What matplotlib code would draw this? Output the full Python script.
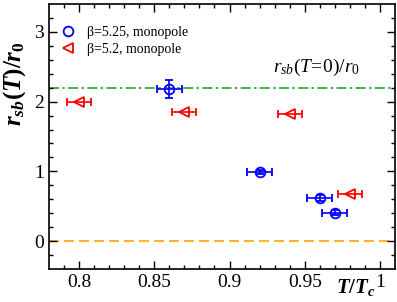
import numpy as np
import matplotlib
matplotlib.use('Agg')
import matplotlib.pyplot as plt
from matplotlib.lines import Line2D

plt.rcParams['font.family'] = 'Liberation Serif'
plt.rcParams['mathtext.fontset'] = 'custom'
plt.rcParams['mathtext.rm'] = 'Liberation Serif'
plt.rcParams['mathtext.it'] = 'Liberation Serif:italic'
plt.rcParams['mathtext.bf'] = 'Liberation Serif:bold'
plt.rcParams['mathtext.bfit'] = 'Liberation Serif:bold:italic'

# beta = 5.25, monopole
t_525 = [0.86, 0.92, 0.96, 0.97]
r_525 = [2.18, 0.99, 0.62, 0.41]
tx_525 = [0.0083, 0.0083, 0.0083, 0.0083]
ry_525 = [0.13, 0.03, 0.04, 0.04]

# beta = 5.2, monopole
t_52 = [0.80, 0.87, 0.94, 0.98]
r_52 = [2.00, 1.85, 1.82, 0.67]
tx_52 = [0.008, 0.008, 0.008, 0.008]

r_T0 = 2.2

fig = plt.figure(figsize=(3.97, 3.02), dpi=100)
ax = fig.add_axes([0.1234, 0.109, 0.8716, 0.878])

ax.axhline(r_T0, color='#22aa22', ls=(0, (6, 2, 1.5, 2)), lw=1.2, zorder=1)
ax.axhline(0, color='orange', ls=(0, (6, 3)), lw=1.2, zorder=1)

ax.errorbar(t_525, r_525, xerr=tx_525, yerr=ry_525, fmt='o', color='blue',
            mfc='none', ms=7, mew=1.3, elinewidth=1.2, capsize=3, capthick=1.2)
ax.errorbar(t_52, r_52, xerr=tx_52, fmt='<', color='red',
            mfc='none', ms=7, mew=1.3, elinewidth=1.2, capsize=3, capthick=1.2)

ax.set_xlim(0.78, 1.01)
ax.set_ylim(-0.4, 3.4)
ax.set_xticks([0.8, 0.85, 0.9, 0.95, 1.0])
ax.set_xticklabels(['0.8', '0.85', '0.9', '0.95', '1'])
ax.set_xticks(np.arange(0.79, 1.01, 0.01), minor=True)
ax.set_yticks([0, 1, 2, 3])
ax.set_yticks(np.arange(-0.2, 3.4, 0.2), minor=True)
ax.tick_params(which='both', direction='in', top=True, right=True, labelsize=14)
ax.tick_params(which='major', length=6, width=1)
ax.tick_params(which='minor', length=3, width=1)
for s in ax.spines.values():
    s.set_linewidth(1.2)

ax.set_ylabel(r'$\mathbfit{r}_{\mathbfit{sb}}\mathbf{(}\mathbfit{T}\mathbf{)/}\mathbfit{r}_{\mathbf{0}}$',
              fontsize=18)
ax.yaxis.set_label_coords(-0.062, 0.7)

ax.text(0.984, -0.74, r'$\mathbfit{T}\mathbf{/}\mathbfit{T}_{\mathbfit{c}}$',
        fontsize=15, ha='center', va='baseline')

ax.text(0.929, 2.43, r'$r_{sb}(T\!=\!0)/r_0$', fontsize=14, ha='left', va='baseline')

handles = [Line2D([], [], marker='o', ls='none', color='blue', mfc='none', ms=7, mew=1.3),
           Line2D([], [], marker='<', ls='none', color='red', mfc='none', ms=7, mew=1.3)]
ax.legend(handles, ['β=5.25, monopole', 'β=5.2, monopole'], loc='upper left',
          bbox_to_anchor=(-0.01, 0.965), frameon=False, fontsize=10,
          handletextpad=0.6, labelspacing=0.3, handlelength=1.5)

fig.savefig('out.png', dpi=100)
